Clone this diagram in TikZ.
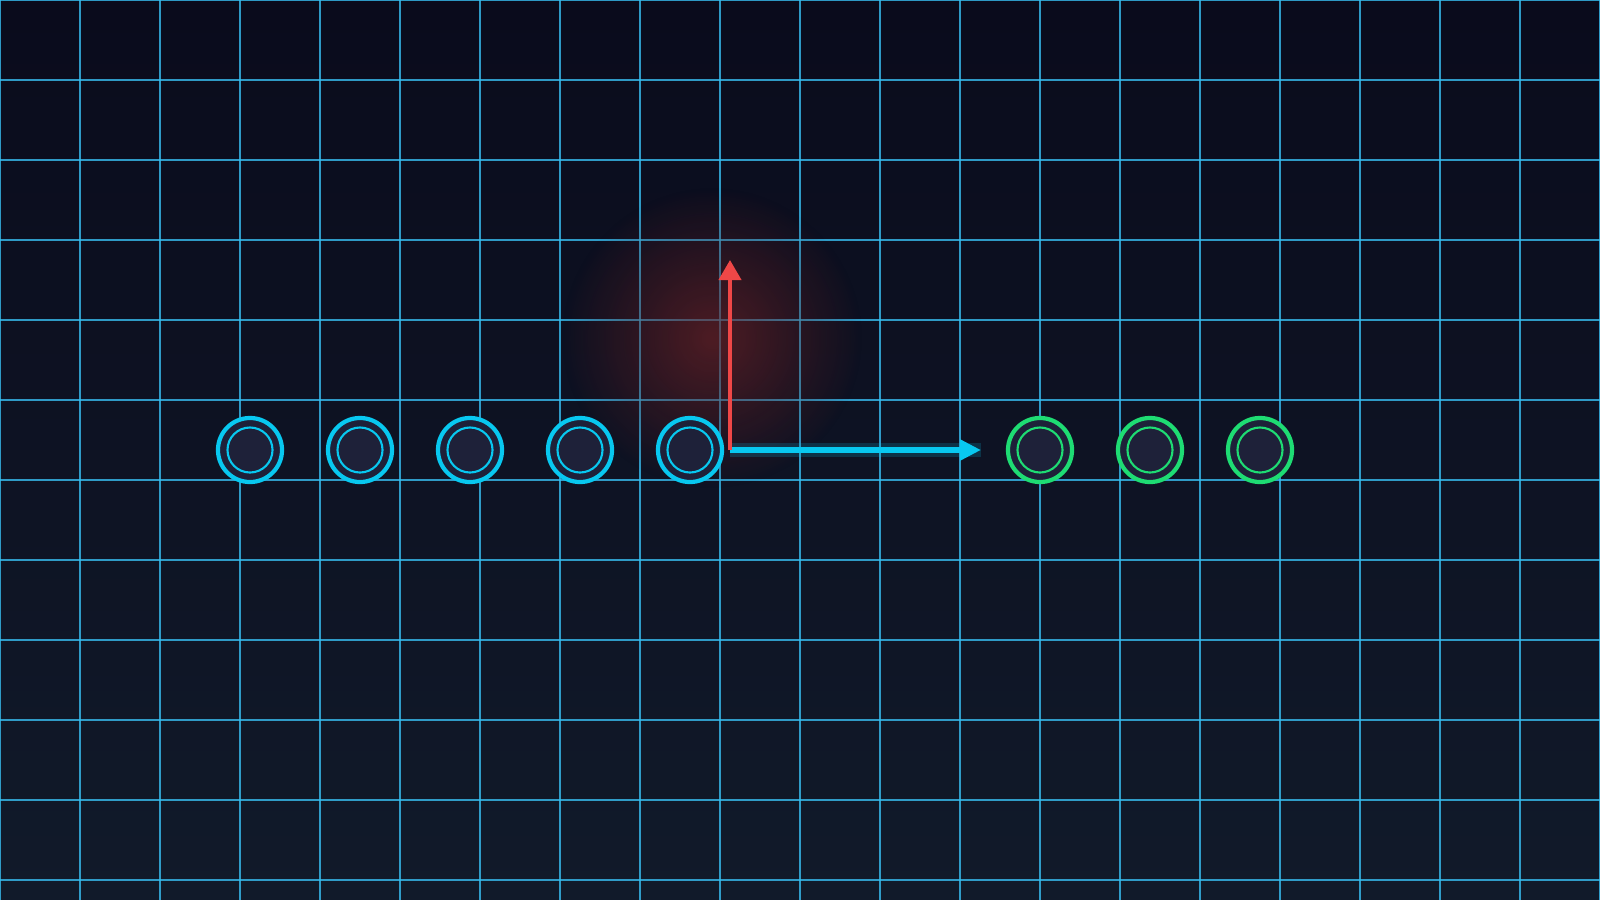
\documentclass[tikz,border=0pt]{standalone}
\usetikzlibrary{arrows.meta,fadings}
\definecolor{bgtop}{HTML}{0A0B1C}
\definecolor{bgbot}{HTML}{111A2A}
\definecolor{gridc}{HTML}{38BDF0}
\definecolor{cyanc}{HTML}{08C8F0}
\definecolor{greenc}{HTML}{1EDC73}
\definecolor{redc}{HTML}{EF4747}
\definecolor{dotfill}{HTML}{1E2139}
\tikzfading[name=glowfade, inner color=transparent!0, outer color=transparent!100]
\tikzset{
  gridline/.style={draw=gridc, line width=0.3pt, opacity=0.8},
  ring/.style={circle, minimum size=0.64cm, inner sep=0pt, fill=dotfill, line width=1.2pt},
  cyanring/.style={ring, draw=cyanc, path picture={\draw[cyanc, line width=0.6pt] (path picture bounding box.center) circle (0.225cm);}},
  greenring/.style={ring, draw=greenc, path picture={\draw[greenc, line width=0.6pt] (path picture bounding box.center) circle (0.225cm);}},
  cyanarrow/.style={draw=cyanc, line width=1.7pt, -{Triangle[length=0.21cm, width=0.2cm]}},
  redarrow/.style={draw=redc, line width=1.15pt, -{Triangle[length=0.2cm, width=0.22cm]}},
}
\begin{document}
\begin{tikzpicture}[x=0.01cm, y=-0.01cm]
\useasboundingbox (0,0) rectangle (1600,900);
\shade[top color=bgtop, bottom color=bgbot] (0,0) rectangle (1600,900);
% grid
\foreach \i in {0,80,...,1600} { \draw[gridline] (\i,0) -- (\i,900); }
\foreach \j in {0,80,...,880} { \draw[gridline] (0,\j) -- (1600,\j); }
% red glow (dims the grid beneath it)
\fill[black!60!bgtop, opacity=0.55, path fading=glowfade] (712,338) circle (150);
\fill[redc, opacity=0.3, path fading=glowfade] (712,338) circle (150);
% rings
\node[cyanring] (c1) at (250,450) {};
\node[cyanring] (c2) at (360,450) {};
\node[cyanring] (c3) at (470,450) {};
\node[cyanring] (c4) at (580,450) {};
\node[cyanring] (c5) at (690,450) {};
\node[greenring] (g1) at (1040,450) {};
\node[greenring] (g2) at (1150,450) {};
\node[greenring] (g3) at (1260,450) {};
% arrows
\coordinate (o) at (730,450);
\coordinate (xend) at (981,450);
\coordinate (yend) at (730,260);
\draw[cyanc, line width=4pt, opacity=0.18] (o) -- (xend);
\draw[cyanarrow] (o) -- (xend);
\draw[redarrow] (o) -- (yend);
\end{tikzpicture}
\end{document}
